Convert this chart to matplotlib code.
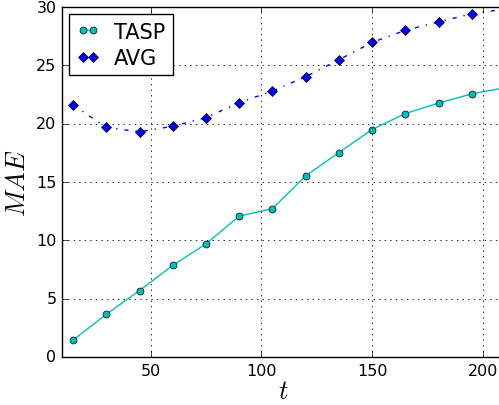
import matplotlib
matplotlib.use('Agg')
import matplotlib.pyplot as plt

plt.style.use('classic')
plt.rcParams['mathtext.fontset'] = 'cm'

# sample times and errors
t = [15, 30, 45, 60, 75, 90, 105, 120, 135, 150, 165, 180, 195, 210]
tasp = [1.45, 3.66, 5.7, 7.85, 9.7, 12.07, 12.72, 15.52, 17.52, 19.5, 20.87, 21.76, 22.56, 23.08]
avg = [21.6, 19.68, 19.3, 19.78, 20.52, 21.8, 22.8, 24.02, 25.48, 26.96, 28.0, 28.72, 29.42, 29.82]

fig = plt.figure(figsize=(4.99, 4.06), dpi=100, facecolor='white')
ax = fig.add_axes([62 / 499, 48 / 406, 443 / 499, 350 / 406])

ax.plot(t, tasp, color='c', marker='o', markersize=5, linewidth=1.0, label='TASP')
ax.plot(t, avg, color='b', marker='D', markersize=5.5, linewidth=1.0, linestyle='-.', label='AVG')

ax.set_xlim(10, 210)
ax.set_ylim(0, 30)
ax.set_xticks([50, 100, 150, 200])
ax.set_yticks([0, 5, 10, 15, 20, 25, 30])
ax.tick_params(labelsize=11.5)
ax.grid(True, color='black', linestyle=':', linewidth=0.6)

ax.set_xlabel('$t$', fontsize=19, labelpad=0)
ax.set_ylabel('$MAE$', fontsize=19, labelpad=4)

ax.legend(loc='upper left', fontsize=15, numpoints=2, borderaxespad=0.35,
          handlelength=1.1, handletextpad=0.7, borderpad=0.35, labelspacing=0.3)

fig.savefig('out.png', dpi=100, facecolor='white')
